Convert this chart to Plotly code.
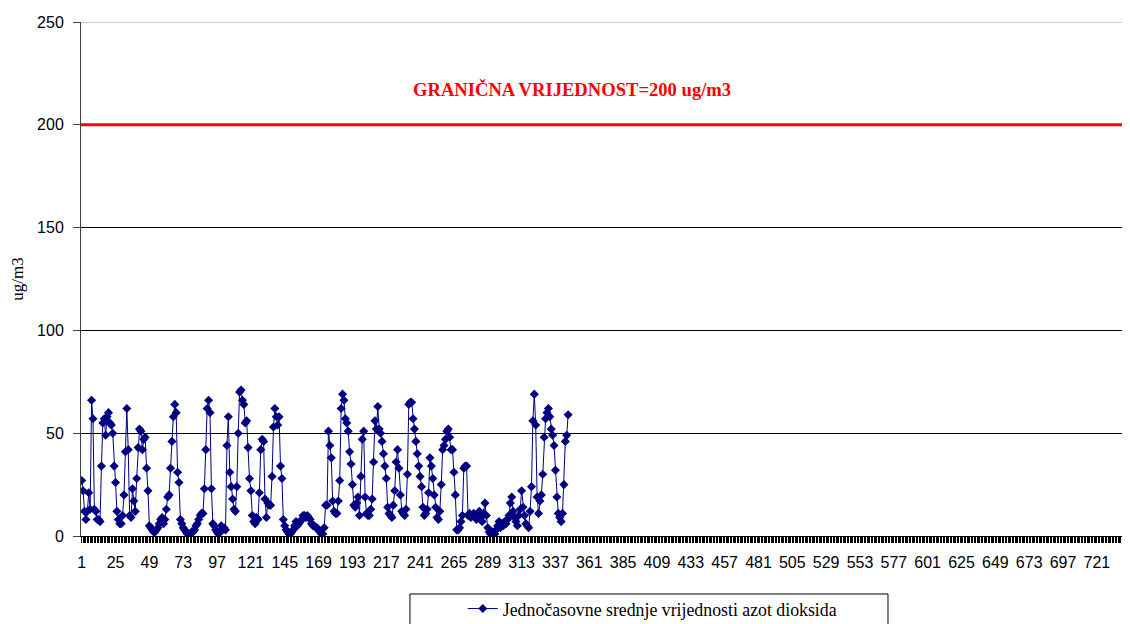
import plotly.graph_objects as go

# Jednočasovne vrijednosti NO2 (ug/m3), procijenjeno sa slike
no2 = [
    27, 22, 12, 8, 12, 21, 13, 66, 57, 13, 12, 8, 8, 7, 34, 55, 57, 49, 58, 60, 55, 54, 50, 34,
    26, 12, 8, 6, 6, 10, 20, 41, 62, 42, 10, 9, 23, 17, 12, 28, 43, 52, 51, 42, 47, 48, 33, 22,
    5, 4, 3, 2, 2, 3, 4, 6, 8, 9, 6, 8, 13, 19, 20, 33, 46, 58, 64, 60, 31, 26, 8, 6,
    4, 3, 2, 1, 1, 1, 2, 2, 3, 5, 6, 8, 10, 11, 11, 23, 42, 62, 66, 60, 23, 6, 5, 3,
    2, 1, 2, 5, 3, 4, 3, 44, 58, 31, 24, 18, 13, 12, 24, 50, 70, 71, 66, 64, 55, 56, 43, 28,
    22, 10, 7, 6, 9, 8, 21, 42, 47, 46, 18, 9, 16, 15, 15, 29, 53, 62, 58, 54, 58, 34, 28, 8,
    5, 3, 2, 1, 1, 2, 3, 5, 7, 5, 6, 7, 8, 10, 10, 9, 10, 9, 8, 6, 5, 5, 4, 4,
    3, 2, 1, 1, 4, 15, 15, 51, 44, 38, 17, 12, 11, 11, 17, 27, 62, 69, 66, 57, 55, 51, 41, 35,
    25, 15, 14, 16, 19, 10, 29, 47, 51, 19, 11, 10, 10, 13, 18, 36, 56, 52, 63, 52, 50, 46, 40, 34,
    28, 14, 11, 10, 9, 15, 22, 36, 42, 33, 20, 12, 11, 10, 13, 30, 64, 65, 65, 57, 52, 46, 40, 34,
    29, 24, 14, 10, 11, 13, 21, 38, 34, 28, 20, 14, 9, 8, 12, 25, 42, 44, 47, 51, 52, 48, 42, 42,
    31, 20, 3, 3, 4, 7, 10, 33, 34, 34, 10, 11, 9, 10, 11, 10, 8, 10, 12, 9, 7, 11, 16, 10,
    4, 2, 1, 2, 1, 1, 3, 5, 7, 4, 6, 5, 7, 6, 8, 10, 16, 19, 12, 9, 7, 5, 10, 13,
    22, 14, 10, 6, 5, 4, 12, 24, 56, 69, 54, 19, 11, 17, 20, 30, 48, 57, 60, 62, 58, 52, 49, 44,
    32, 19, 11, 9, 7, 11, 25, 46, 49, 59,
]
hours = list(range(1, len(no2) + 1))

n_hours = 744  # 31 dan x 24 sata
all_hours = list(range(1, n_hours + 1))
# oznaka svakih 24 sata, kvačica za svaki sat
x_labels = [str(h) if (h - 1) % 24 == 0 else "" for h in all_hours]
y_ticks = [0, 50, 100, 150, 200, 250]
limit_value = 200
limit_label = "GRANIČNA VRIJEDNOST=200 ug/m3"
series_name = "Jednočasovne srednje vrijednosti azot dioksida"

fig = go.Figure()
fig.add_trace(go.Scatter(
    x=hours, y=no2,
    mode="lines+markers",
    name=series_name,
    line=dict(color="#000080", width=1),
    marker=dict(symbol="diamond", size=7, color="#000080"),
))

# granična vrijednost
fig.add_shape(type="line", xref="paper", x0=0, x1=1, yref="y", y0=limit_value, y1=limit_value,
              line=dict(color="#FF0000", width=3))
# gornja linija (siva)
fig.add_shape(type="line", xref="paper", x0=0, x1=1, yref="y", y0=250, y1=250,
              line=dict(color="#A0A0A0", width=1))
# okvir legende
fig.add_shape(type="rect", xref="paper", yref="paper", x0=0.3136, x1=0.7693, y0=-0.1128, y1=-0.3,
              line=dict(color="black", width=1), fillcolor="rgba(0,0,0,0)")

fig.add_annotation(
    text=limit_label, xref="paper", x=0.468, yref="y", y=217,
    showarrow=False, font=dict(family="Liberation Serif", size=18.6, color="#FF0000", weight="bold"),
)

fig.update_xaxes(
    range=[0.5, n_hours + 0.5],
    tickmode="array", tickvals=all_hours, ticktext=x_labels,
    ticks="outside", ticklen=6, tickcolor="black", tickwidth=1,
    ticklabelstandoff=6,
    showgrid=False, zeroline=False,
    showline=True, linecolor="black", linewidth=1,
    tickfont=dict(family="Liberation Sans", size=16, color="black"),
    automargin=False,
)
fig.update_yaxes(
    range=[0, 250],
    tickmode="array", tickvals=y_ticks,
    ticks="outside", ticklen=7, tickcolor="#404040",
    ticklabelstandoff=6,
    showgrid=True, gridcolor="black", gridwidth=1,
    zeroline=False,
    showline=True, linecolor="#404040", linewidth=1,
    tickfont=dict(family="Liberation Sans", size=16, color="black"),
    title=dict(text="ug/m3", font=dict(family="Liberation Serif", size=17, color="black"), standoff=9),
    automargin=False,
)

# stranica ima 8 px margine tijela, pa je figura manja za 8 px i margine pomjerene
fig.update_layout(
    width=1122,
    height=616,
    margin=dict(l=73, r=0, t=14, b=88, autoexpand=False),
    paper_bgcolor="white",
    plot_bgcolor="white",
    showlegend=True,
    legend=dict(
        x=0.5446, xanchor="center",
        y=-0.142, yanchor="middle",
        bgcolor="rgba(0,0,0,0)",
        font=dict(family="Liberation Serif", size=17.8, color="black"),
    ),
)

fig.write_html("out.html")
